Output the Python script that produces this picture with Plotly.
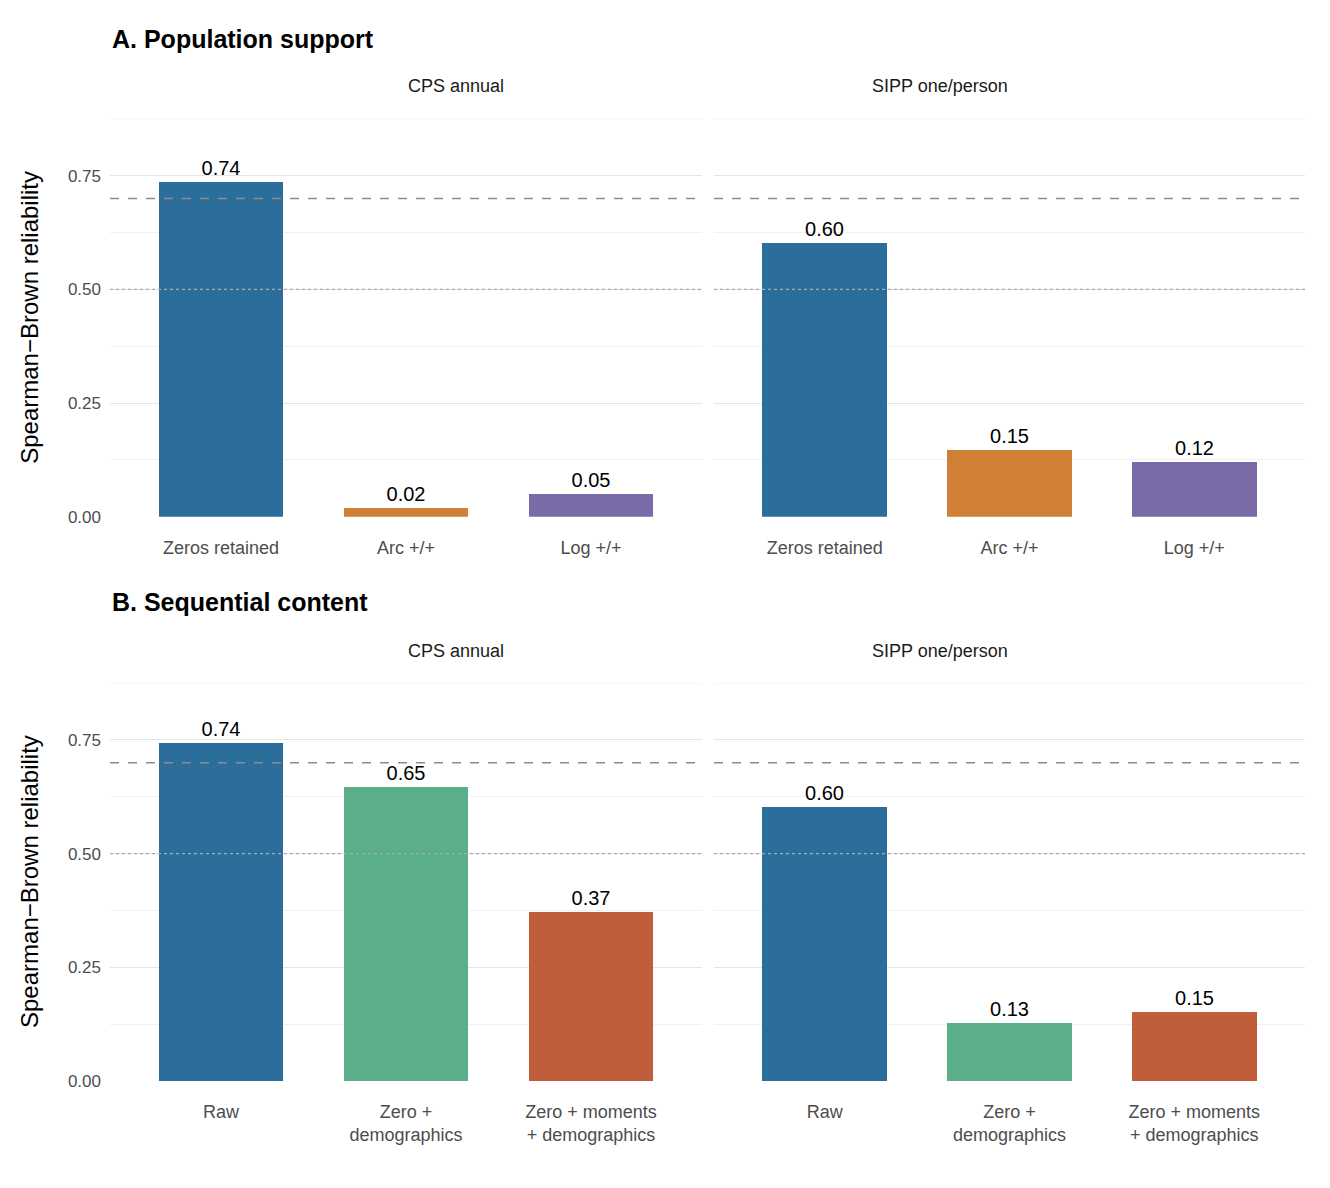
import plotly.graph_objects as go

cats_a = ["Zeros retained", "Arc +/+", "Log +/+"]
cats_b = ["Raw", "Zero +<br>demographics", "Zero + moments<br>+ demographics"]
facets = ["CPS annual", "SIPP one/person"]
vals_a_cps = [0.737, 0.018, 0.050]
vals_a_sipp = [0.602, 0.146, 0.120]
vals_b_cps = [0.742, 0.645, 0.371]
vals_b_sipp = [0.602, 0.126, 0.150]
cols_a = ["#2c6e9b", "#d08035", "#7b6aa8"]
cols_b = ["#2c6e9b", "#5aae8a", "#c05e3b"]

FONT = "Liberation Sans, Arial, sans-serif"
W, H = 1330, 1188
OX, OY = 8, 6
def px(x): return (x - OX) / W
def py(y): return 1 - (y - OY) / H
xd = [(px(110), px(702)), (px(714), px(1305))]
yd = {"A": (py(519), py(117)), "B": (py(1088), py(686))}

fig = go.Figure()
panels = [
    ("A", 0, vals_a_cps, cats_a, cols_a),
    ("A", 1, vals_a_sipp, cats_a, cols_a),
    ("B", 0, vals_b_cps, cats_b, cols_b),
    ("B", 1, vals_b_sipp, cats_b, cols_b),
]
for i, (row, col, vals, cats, cols) in enumerate(panels, start=1):
    xa = "x" if i == 1 else f"x{i}"
    ya = "y" if i == 1 else f"y{i}"
    fig.add_trace(go.Bar(
        x=[0, 1, 2], y=vals, width=0.675, marker=dict(color=cols, line=dict(width=0)),
        text=[f"{v:.2f}" for v in vals], textposition="outside", cliponaxis=False,
        textfont=dict(size=20, color="black", family=FONT),
        xaxis=xa, yaxis=ya, showlegend=False, hoverinfo="skip"))
    key = "" if i == 1 else str(i)
    fig.update_layout(**{
        f"xaxis{key}": dict(domain=xd[col], anchor=ya, range=[-0.6, 2.6],
                            tickvals=[0, 1, 2], ticktext=cats, showgrid=False,
                            zeroline=False, showline=False, ticks="", ticklabelstandoff=18,
                            tickfont=dict(size=18, color="#4d4d4d", family=FONT)),
        f"yaxis{key}": dict(domain=yd[row], anchor=xa, range=[0, 0.877],
                            tickvals=[0, 0.25, 0.5, 0.75], ticktext=["0.00", "0.25", "0.50", "0.75"],
                            showticklabels=(col == 0), gridcolor="#e5e5e5", gridwidth=1.3,
                            minor=dict(dtick=0.125, tick0=0, showgrid=True, gridcolor="#f0f0f0", gridwidth=0.8),
                            zeroline=False, showline=False, ticks="", ticklabelstandoff=8,
                            tickfont=dict(size=17, color="#4d4d4d", family=FONT),
                            title=dict(text="Spearman−Brown reliability" if col == 0 else "",
                                       font=dict(size=24, color="black", family=FONT), standoff=22)),
    })
    fig.add_shape(type="line", xref=f"{xa} domain", yref=ya, x0=0, x1=1, y0=0.875, y1=0.875,
                  line=dict(color="#f0f0f0", width=0.8), layer="below")
    fig.add_shape(type="line", xref=f"{xa} domain", yref=ya, x0=0, x1=1, y0=0.7, y1=0.7,
                  line=dict(color="#8c8c8c", width=1.3, dash="dash"))
    fig.add_shape(type="line", xref=f"{xa} domain", yref=ya, x0=0, x1=1, y0=0.5, y1=0.5,
                  line=dict(color="#aaaaaa", width=1.2, dash="dot"))
    ypix = 85 if row == "A" else 654
    fig.add_annotation(text=facets[col], xref="paper", yref="paper",
                       x=sum(xd[col]) / 2, y=py(ypix), yanchor="middle", showarrow=False,
                       font=dict(size=18, color="#1a1a1a", family=FONT))

fig.add_annotation(text="<b>A. Population support</b>", xref="paper", yref="paper",
                   x=px(110), y=py(37), xanchor="left", yanchor="middle", showarrow=False,
                   font=dict(size=25, color="black", family=FONT))
fig.add_annotation(text="<b>B. Sequential content</b>", xref="paper", yref="paper",
                   x=px(110), y=py(605), xanchor="left", yanchor="middle", showarrow=False,
                   font=dict(size=25, color="black", family=FONT))

fig.update_layout(width=W, height=H, margin=dict(l=0, r=0, t=0, b=0),
                  plot_bgcolor="white", paper_bgcolor="white",
                  font=dict(family=FONT), bargap=0)
fig.write_html("out.html")
